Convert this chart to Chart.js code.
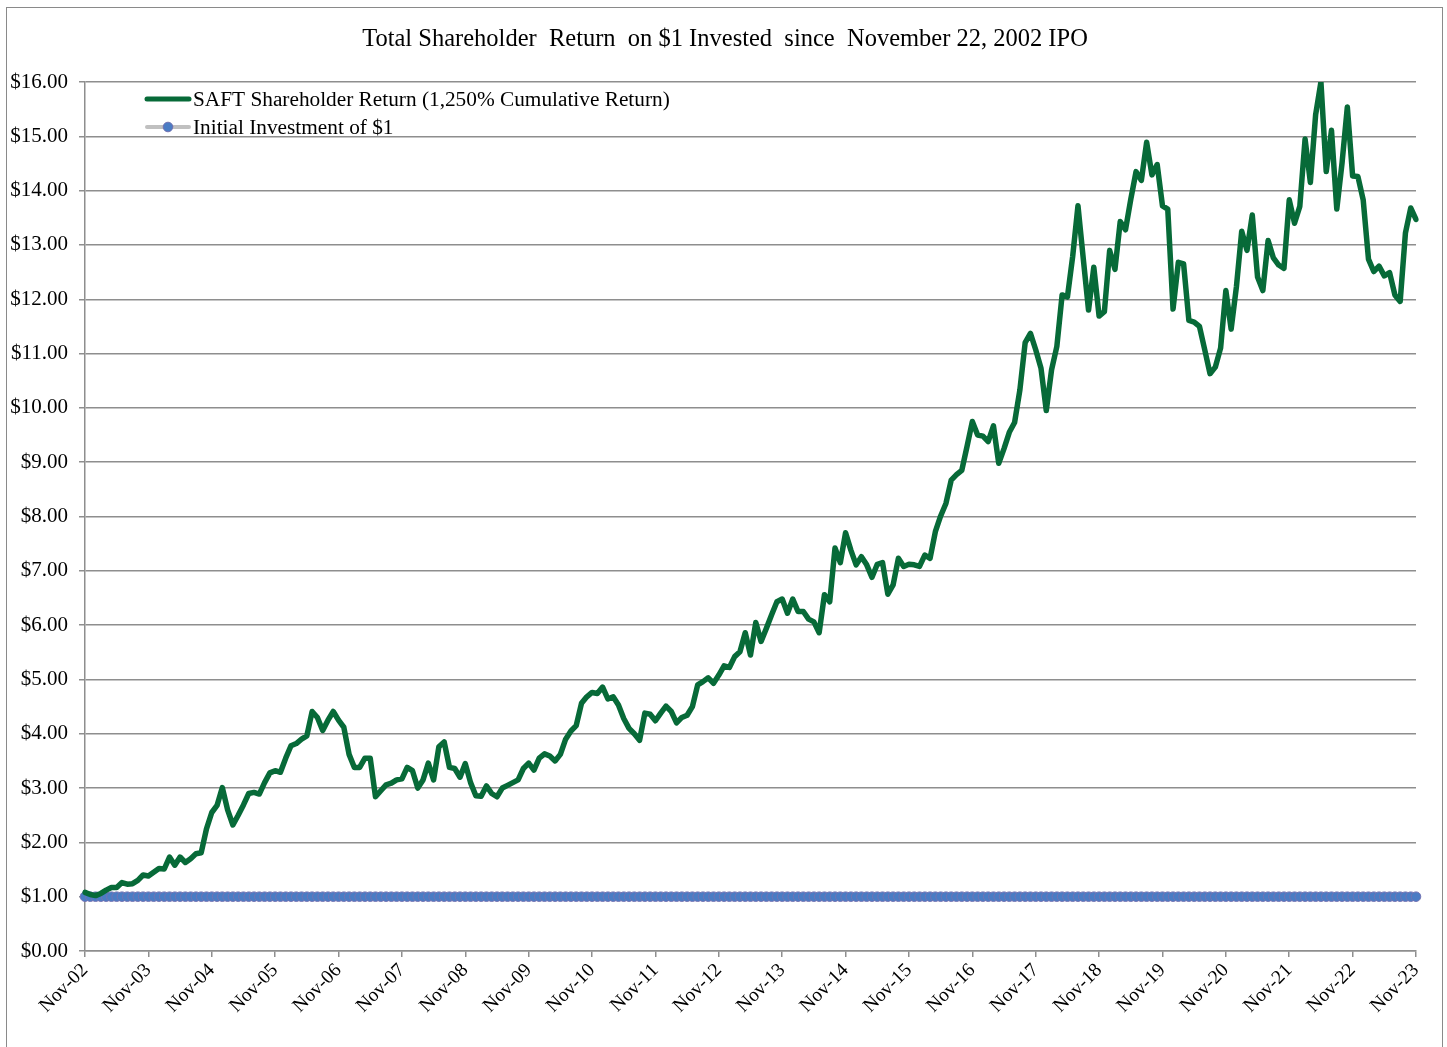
<!DOCTYPE html>
<html>
<head>
<meta charset="utf-8">
<script src="https://cdn.jsdelivr.net/npm/chart.js@4.4.1/dist/chart.umd.min.js"></script>
<style>
  html, body { margin: 0; padding: 0; background: #ffffff; }
  #wrap { width: 1447px; height: 1047px; position: relative; }
</style>
</head>
<body>
<div id="wrap"><canvas id="c" width="1447" height="1047"></canvas></div>
<script>
// ---- Data (monthly, Nov-02 .. Nov-23) ----
const titleText = 'Total Shareholder  Return  on $1 Invested  since  November 22, 2002 IPO';
const seriesNames = ['SAFT Shareholder Return (1,250% Cumulative Return)', 'Initial Investment of $1'];
const tickLabels = ['Nov-02','Nov-03','Nov-04','Nov-05','Nov-06','Nov-07','Nov-08','Nov-09','Nov-10','Nov-11','Nov-12',
                    'Nov-13','Nov-14','Nov-15','Nov-16','Nov-17','Nov-18','Nov-19','Nov-20','Nov-21','Nov-22','Nov-23'];
const saftReturn = [
  1.08,1.04,1.02,1.06,1.12,1.17,1.17,1.26,1.23,1.24,1.30,1.40,
  1.38,1.45,1.52,1.51,1.73,1.58,1.73,1.63,1.70,1.79,1.81,2.25,
  2.55,2.68,3.01,2.60,2.32,2.50,2.69,2.90,2.92,2.89,3.10,3.28,
  3.32,3.29,3.55,3.78,3.82,3.90,3.96,4.41,4.30,4.06,4.25,4.41,
  4.25,4.12,3.62,3.38,3.38,3.55,3.55,2.84,2.95,3.06,3.09,3.15,
  3.17,3.38,3.32,3.00,3.15,3.46,3.15,3.76,3.85,3.38,3.36,3.20,
  3.45,3.10,2.86,2.85,3.04,2.90,2.84,3.00,3.05,3.10,3.15,3.36,
  3.46,3.33,3.55,3.63,3.59,3.50,3.62,3.90,4.05,4.15,4.56,4.68,
  4.76,4.74,4.86,4.64,4.68,4.53,4.28,4.10,4.00,3.88,4.38,4.36,
  4.24,4.38,4.51,4.41,4.20,4.30,4.34,4.50,4.90,4.96,5.03,4.93,
  5.08,5.25,5.22,5.42,5.51,5.86,5.45,6.05,5.70,5.94,6.19,6.43,
  6.48,6.22,6.48,6.25,6.25,6.11,6.06,5.86,6.56,6.43,7.42,7.15,
  7.70,7.38,7.11,7.26,7.11,6.88,7.12,7.15,6.57,6.74,7.23,7.08,
  7.12,7.11,7.08,7.29,7.23,7.72,8.01,8.24,8.67,8.77,8.85,9.29,
  9.75,9.50,9.48,9.38,9.67,8.98,9.25,9.55,9.73,10.33,11.20,11.37,
  11.07,10.73,9.95,10.70,11.13,12.08,12.04,12.79,13.72,12.75,11.80,12.59,
  11.69,11.77,12.90,12.55,13.43,13.28,13.84,14.35,14.19,14.89,14.29,14.48,
  13.72,13.66,11.82,12.68,12.65,11.61,11.58,11.50,11.07,10.63,10.75,11.10,
  12.16,11.45,12.23,13.25,12.90,13.55,12.41,12.16,13.08,12.76,12.63,12.57,
  13.83,13.40,13.71,14.95,14.15,15.40,16.00,14.35,15.11,13.66,14.51,15.54,
  14.27,14.26,13.83,12.74,12.51,12.61,12.43,12.49,12.08,11.96,13.22,13.68,
  13.47
];
const initialInvestment = saftReturn.map(() => 1.00);
const monthNames = ['Jan','Feb','Mar','Apr','May','Jun','Jul','Aug','Sep','Oct','Nov','Dec'];
const categories = saftReturn.map((_, i) => {
  const m = (10 + i) % 12;
  const y = 2002 + Math.floor((10 + i) / 12);
  return monthNames[m] + '-' + String(y % 100).padStart(2, '0');
});

const SERIF = '"Liberation Serif", "Times New Roman", serif';
const GREEN = '#076a38';
const GRID = '#8e8e8e';

const decorPlugin = {
  id: 'decor',
  beforeDraw(chart) {
    const ctx = chart.ctx;
    ctx.save();
    ctx.fillStyle = '#fff';
    ctx.fillRect(0, 0, chart.width, chart.height);
    ctx.strokeStyle = '#8a8a8a';
    ctx.lineWidth = 1;
    ctx.strokeRect(6.5, 7.5, 1436, 1045);
    ctx.restore();
  },
  afterDraw(chart) {
    const ctx = chart.ctx;
    ctx.save();
    // title
    ctx.fillStyle = '#000';
    ctx.font = '24.5px ' + SERIF;
    ctx.textAlign = 'center';
    ctx.textBaseline = 'middle';
    ctx.fillText(titleText, 725, 40);
    // legend
    ctx.textAlign = 'left';
    ctx.font = '21.3px ' + SERIF;
    ctx.lineCap = 'round';
    ctx.strokeStyle = GREEN;
    ctx.lineWidth = 5;
    ctx.beginPath(); ctx.moveTo(147, 99); ctx.lineTo(189, 99); ctx.stroke();
    ctx.fillText(seriesNames[0], 193, 100);
    ctx.strokeStyle = '#c0c0c0';
    ctx.lineWidth = 4;
    ctx.beginPath(); ctx.moveTo(147, 127); ctx.lineTo(189, 127); ctx.stroke();
    ctx.beginPath(); ctx.arc(168, 127, 4.8, 0, Math.PI * 2);
    ctx.fillStyle = '#4a7cc4'; ctx.fill();
    ctx.lineWidth = 1; ctx.strokeStyle = '#7070b0'; ctx.stroke();
    ctx.fillStyle = '#000';
    ctx.fillText(seriesNames[1], 193, 128);
    ctx.restore();
  }
};

new Chart(document.getElementById('c'), {
  type: 'line',
  data: {
    labels: categories,
    datasets: [
      {
        label: seriesNames[1],
        data: initialInvestment,
        borderColor: '#c0c0c0',
        borderWidth: 3,
        pointRadius: 4.8,
        pointBackgroundColor: '#4a7cc4',
        pointBorderColor: '#7373b3',
        pointBorderWidth: 1,
        tension: 0,
        order: 2
      },
      {
        label: seriesNames[0],
        data: saftReturn,
        borderColor: GREEN,
        borderWidth: 5.5,
        pointRadius: 0,
        tension: 0,
        borderJoinStyle: 'round',
        borderCapStyle: 'round',
        order: 1
      }
    ]
  },
  plugins: [decorPlugin],
  options: {
    responsive: false,
    animation: false,
    events: [],
    layout: { padding: { top: 82, right: 31, left: 0, bottom: 0 } },
    plugins: {
      legend: { display: false },
      title: { display: false },
      tooltip: { enabled: false }
    },
    scales: {
      x: {
        type: 'category',
        offset: false,
        afterFit(s) { s.height = 96; },
        border: { display: true, color: GRID, width: 1.5 },
        grid: {
          drawOnChartArea: false,
          drawTicks: true,
          tickLength: 6,
          color: GRID,
          lineWidth: 1.5
        },
        ticks: {
          autoSkip: false,
          minRotation: 45,
          maxRotation: 45,
          padding: 2,
          color: '#000',
          font: { family: SERIF, size: 19.5 },
          callback(v, i) { return i % 12 === 0 ? tickLabels[i / 12] : null; }
        }
      },
      y: {
        min: 0,
        max: 16,
        afterFit(s) { s.width = 85; },
        border: { display: true, color: GRID, width: 1.5 },
        grid: { color: GRID, lineWidth: 1.5, tickLength: 6 },
        ticks: {
          stepSize: 1,
          padding: 11,
          color: '#000',
          font: { family: SERIF, size: 21 },
          callback(v) { return '$' + Number(v).toFixed(2); }
        }
      }
    }
  }
});
</script>
</body>
</html>
